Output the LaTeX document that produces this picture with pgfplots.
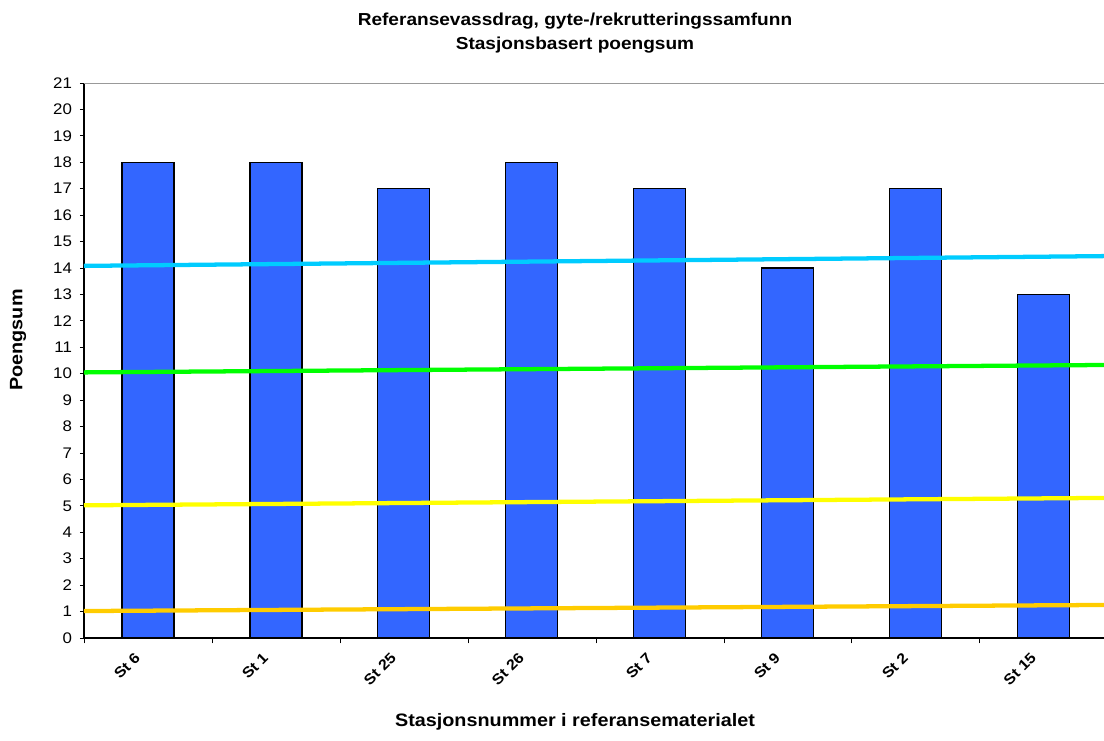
\documentclass[border=0pt]{standalone}
\usepackage{fontspec}
\setmainfont{Liberation Sans}
\newfontfamily\widefont[FakeStretch=1.1]{Liberation Sans}
\usepackage{pgfplots}
\pgfplotsset{compat=1.18}
\definecolor{barblue}{RGB}{51,102,255}
\definecolor{lcyan}{RGB}{0,204,255}
\definecolor{lgreen}{RGB}{0,255,0}
\definecolor{lyellow}{RGB}{255,255,0}
\definecolor{lorange}{RGB}{255,204,0}
\begin{document}
\begin{tikzpicture}[x=0.75pt,y=0.75pt]
\begin{axis}[
  scale only axis, width=765pt, height=416.25pt,
  xmin=0.5, xmax=8.47, ymin=0, ymax=21,
  axis x line*=bottom, axis y line*=left,
  axis line style={black, line width=0.8pt},
  ytick={0,...,21},
  xtick={1,...,8},
  xticklabels={St 6,St 1,St 25,St 26,St 7,St 9,St 2,St 15},
  minor xtick={0.5,1.5,...,8.5},
  major tick length=3pt, minor tick length=4pt,
  tick align=outside,
  x tick style={draw=none},
  minor x tick style={draw=black, line width=0.6pt},
  y tick style={black, line width=0.6pt},
  /pgf/number format/assume math mode=true,
  yticklabel style={font=\widefont\fontsize{11.5}{12}\selectfont, xshift=-2.5pt},
  xticklabel style={font=\widefont\bfseries\fontsize{11}{12}\selectfont, rotate=45, anchor=north east, yshift=6pt, xshift=-9pt},
  clip=true,
]
\addplot[ybar, bar width=39pt, fill=barblue, draw=black, line width=0.8pt] coordinates {
(1,18) (2,18) (3,17) (4,18) (5,17) (6,14) (7,17) (8,13)};
\addplot[lcyan, line width=3.2pt] coordinates {(0.5,14.08) (8.47,14.45)};
\addplot[lgreen, line width=3.2pt] coordinates {(0.5,10.05) (8.47,10.33)};
\addplot[lyellow, line width=3.2pt] coordinates {(0.5,5.02) (8.47,5.3)};
\addplot[lorange, line width=3.2pt] coordinates {(0.5,1.02) (8.47,1.25)};
\draw[gray!80, line width=0.8pt] (rel axis cs:0,1) -- (rel axis cs:1,1);
\end{axis}
\pgfresetboundingbox
\path[use as bounding box] (-84,-102) rectangle (1020,638);
\node[font=\widefont\bfseries\fontsize{13}{16}\selectfont, align=center] at (491,605) {Referansevassdrag, gyte-/rekrutteringssamfunn\\[2pt]Stasjonsbasert poengsum};
\node[font=\widefont\bfseries\fontsize{13.5}{16}\selectfont, rotate=90] at (-66,298) {Poengsum};
\node[font=\widefont\bfseries\fontsize{13.5}{16}\selectfont] at (491,-84) {Stasjonsnummer i referansematerialet};
\end{tikzpicture}
\end{document}
